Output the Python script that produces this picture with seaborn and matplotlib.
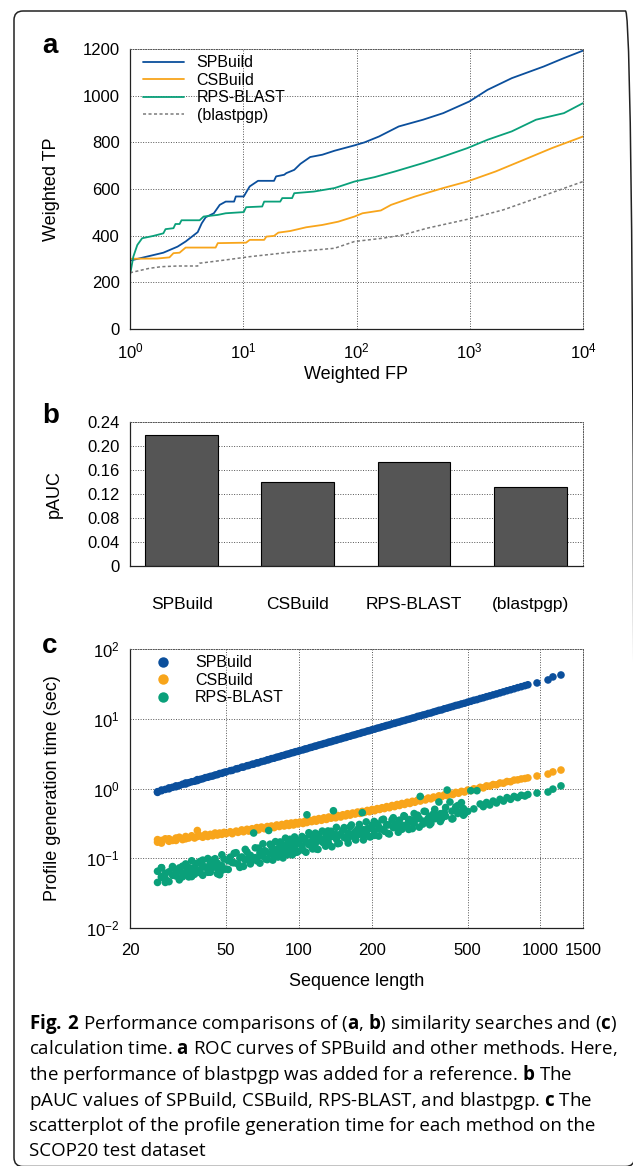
import pandas as pd
import seaborn as sns
import matplotlib.pyplot as plt
from matplotlib.lines import Line2D
from matplotlib.patches import FancyBboxPatch
from matplotlib.ticker import NullLocator

# ---------------- datos ----------------
methods = ['SPBuild', 'CSBuild', 'RPS-BLAST', '(blastpgp)']
colors = {'SPBuild': '#0b4f9c', 'CSBuild': '#f8a51b',
          'RPS-BLAST': '#0aa07a', '(blastpgp)': '#7a7a7a'}

# (a) curvas ROC
sp_fp = [1, 1.97, 2.63, 3.1, 3.96, 4.3, 4.66, 5.5, 6.2, 7.0, 8.3, 8.6, 10.1, 11.4, 13.5, 18.7, 19.5, 23, 24,
         28.2, 32, 39, 50, 64, 96, 118, 158, 236, 387, 582, 990, 1436, 2350, 4500, 6780, 10000]
sp_tp = [293, 327, 353, 375, 415, 453, 479, 496, 532, 546, 546, 568, 568, 611, 635, 635, 654, 661, 668,
         682, 708, 737, 747, 764, 787, 800, 825, 868, 897, 925, 975, 1025, 1075, 1125, 1161, 1193]
cs_fp = [1, 1.74, 2.23, 2.42, 2.74, 3.1, 5.7, 5.96, 10.6, 11.4, 15.3, 16, 18.7, 20.4, 26, 36, 50, 69, 96,
         113, 164, 202, 330, 582, 950, 1690, 3000, 5300, 10000]
cs_tp = [301, 302, 307, 325, 327, 349, 349, 368, 370, 382, 382, 396, 399, 413, 420, 436, 446, 460, 482,
         496, 508, 532, 568, 604, 632, 675, 725, 775, 825]
rps_fp = [1, 1.07, 1.16, 1.28, 1.61, 1.97, 2.06, 2.42, 2.52, 2.74, 2.85, 4.12, 4.47, 5.96, 7.0, 10.1, 10.6,
          14.7, 15.3, 21.2, 22.1, 27, 28.2, 42, 64, 96, 145, 218, 387, 582, 950, 1436, 2350, 3850, 6780, 10000]
rps_tp = [231, 310, 360, 389, 399, 410, 428, 432, 450, 450, 466, 466, 482, 489, 496, 501, 522,
          525, 546, 546, 561, 561, 582, 589, 604, 632, 651, 675, 711, 739, 775, 811, 847, 897, 925, 968]
bp_fp = [1, 1.48, 1.89, 2.63, 3.96, 4.12, 7.0, 11.4, 26, 64, 96, 170, 256, 420, 950, 1990, 3500, 10000]
bp_tp = [241, 260, 267, 270, 270, 282, 296, 310, 329, 346, 375, 389, 403, 432, 470, 511, 553, 632]

# (b) pAUC
pauc = [0.218, 0.140, 0.174, 0.132]
pauc_ticks = [0, 0.04, 0.08, 0.12, 0.16, 0.20, 0.24]
pauc_ticklabels = ['0', '0.04', '0.08', '0.12', '0.16', '0.20', '0.24']

# (c) tiempo de generacion del perfil
seq_len = [26, 26, 27, 27, 28, 29, 29, 30, 31, 31, 32, 33, 34, 34, 35, 36, 37, 38, 38, 39, 40, 41, 42, 43, 44, 45, 46, 47, 48, 49, 50,
           52, 53, 55, 56, 58, 59, 61, 62, 64, 65, 67, 68, 70, 72, 74, 75, 77, 79, 81, 83, 85, 87, 89, 91, 93, 95, 97, 99,
           101, 104, 106, 108, 111, 113, 116, 118, 121, 124, 127, 130, 133, 136, 139, 142, 145, 149, 152, 156, 159, 163, 167, 171, 175, 179, 183, 187, 192, 196,
           201, 206, 211, 216, 221, 226, 231, 237, 243, 249, 255, 261, 267, 274, 281, 288, 295, 302, 310, 318, 326, 334, 343, 352, 361, 370, 380, 390, 400, 411, 422, 434, 446, 458, 471, 485,
           500, 515, 530, 546, 563, 580, 598, 617, 637, 658, 680, 703, 727, 752, 778, 805, 833, 862, 887, 968, 1075, 1126, 1216]
sp_time = [0.90, 0.88, 0.93, 0.95, 0.97, 0.99, 1.02, 1.04, 1.06, 1.09, 1.10, 1.15, 1.16, 1.20, 1.21, 1.25, 1.27, 1.30, 1.34, 1.35, 1.38, 1.43, 1.45, 1.49, 1.51, 1.56, 1.58, 1.64, 1.65, 1.70, 1.73,
           1.80, 1.82, 1.91, 1.93, 2.02, 2.03, 2.12, 2.14, 2.22, 2.24, 2.33, 2.34, 2.43, 2.48, 2.57, 2.59, 2.68, 2.72, 2.81, 2.86, 2.95, 3.00, 3.09, 3.14, 3.23, 3.28, 3.37, 3.41,
           3.50, 3.58, 3.68, 3.72, 3.85, 3.90, 4.02, 4.07, 4.20, 4.28, 4.40, 4.48, 4.62, 4.69, 4.82, 4.90, 5.03, 5.14, 5.27, 5.38, 5.52, 5.62, 5.79, 5.90, 6.07, 6.17, 6.35, 6.45, 6.66, 6.76,
           6.97, 7.10, 7.32, 7.45, 7.66, 7.80, 8.01, 8.17, 8.43, 8.59, 8.84, 9.00, 9.26, 9.45, 9.74, 9.93, 10.2, 10.4, 10.8, 11.0, 11.3, 11.5, 11.9, 12.1, 12.5, 12.8, 13.2, 13.4, 13.9, 14.2, 14.6, 15.0, 15.5, 15.8, 16.3, 16.7,
           17.3, 17.8, 18.4, 18.8, 19.5, 20.0, 20.7, 21.3, 22.0, 22.7, 23.5, 24.3, 25.2, 26.0, 26.9, 27.9, 28.8, 29.8, 30.7, 32.6, 36.0, 39.8, 42.4]
cs_time = [0.170, 0.185, 0.165, 0.180, 0.190, 0.175, 0.190, 0.180, 0.195, 0.180, 0.200, 0.185, 0.205, 0.190, 0.195, 0.210, 0.195, 0.250, 0.205, 0.210, 0.200, 0.220, 0.205, 0.220, 0.210, 0.230, 0.215, 0.230, 0.220, 0.235, 0.225,
           0.240, 0.225, 0.245, 0.235, 0.255, 0.240, 0.260, 0.245, 0.265, 0.250, 0.275, 0.255, 0.280, 0.265, 0.285, 0.270, 0.290, 0.275, 0.300, 0.285, 0.305, 0.290, 0.315, 0.295, 0.320, 0.300, 0.325, 0.310,
           0.330, 0.315, 0.340, 0.325, 0.350, 0.335, 0.360, 0.340, 0.370, 0.350, 0.380, 0.360, 0.390, 0.375, 0.400, 0.380, 0.410, 0.390, 0.420, 0.405, 0.435, 0.415, 0.445, 0.430, 0.460, 0.440, 0.470, 0.455, 0.485, 0.465,
           0.500, 0.480, 0.515, 0.500, 0.530, 0.515, 0.550, 0.530, 0.570, 0.550, 0.590, 0.570, 0.610, 0.590, 0.635, 0.610, 0.655, 0.635, 0.680, 0.660, 0.700, 0.685, 0.730, 0.710, 0.755, 0.735, 0.785, 0.765, 0.810, 0.790, 0.845, 0.820, 0.880, 0.855, 0.910, 0.890,
           0.95, 0.93, 0.99, 0.975, 1.04, 1.02, 1.09, 1.08, 1.14, 1.13, 1.20, 1.19, 1.26, 1.25, 1.32, 1.33, 1.37, 1.39, 1.42, 1.51, 1.61, 1.73, 1.84]
rps_time = [0.045, 0.065, 0.0547, 0.0733, 0.0509, 0.0639, 0.0462, 0.0738, 0.0630, 0.0556, 0.0727, 0.0542, 0.0829, 0.0625, 0.0738, 0.0546, 0.0731, 0.0851, 0.0652, 0.0620, 0.0940, 0.0746, 0.0629, 0.0862, 0.0751, 0.0985, 0.0716, 0.058, 0.0671, 0.0974, 0.0697,
            0.1037, 0.0867, 0.120, 0.0825, 0.1043, 0.0765, 0.1232, 0.1044, 0.0947, 0.230, 0.092, 0.1397, 0.1081, 0.1283, 0.0956, 0.250, 0.1483, 0.1163, 0.111, 0.1688, 0.1347, 0.114, 0.1569, 0.1371, 0.1805, 0.132, 0.1616, 0.1245,
            0.181, 0.1307, 0.1907, 0.420, 0.2171, 0.1489, 0.1862, 0.1361, 0.2168, 0.1844, 0.1655, 0.2152, 0.1598, 0.2434, 0.480, 0.2193, 0.1619, 0.2167, 0.2512, 0.1961, 0.1859, 0.2817, 0.2239, 0.1891, 0.2594, 0.226, 0.450, 0.2162, 0.2648, 0.2036,
            0.297, 0.213, 0.313, 0.261, 0.355, 0.244, 0.303, 0.223, 0.355, 0.302, 0.271, 0.352, 0.260, 0.398, 0.305, 0.359, 0.266, 0.355, 0.414, 0.770, 0.309, 0.468, 0.373, 0.316, 0.436, 0.381, 0.640, 0.368, 0.452, 0.950, 0.640, 0.370, 0.544, 0.457, 0.627, 0.434,
            0.47, 0.93, 0.51, 0.93, 0.60, 0.55, 0.63, 0.58, 0.66, 0.62, 0.70, 0.66, 0.74, 0.70, 0.77, 0.74, 0.80, 0.78, 0.82, 0.86, 0.89, 0.98, 1.09]
# puntos adicionales de RPS-BLAST (bordes y centro de la nube)
rps_len_extra = [27, 28, 30, 32, 33, 35, 36, 37, 39, 40, 42, 43, 44, 46, 48, 51, 54, 57, 60, 63,
                 66, 69, 71, 73, 76, 78, 80, 82, 84, 86, 88, 90, 92, 94, 96, 98, 103, 107, 110, 114,
                 117, 120, 125, 129, 132, 137, 143, 147, 154, 160, 165, 172, 178, 185, 190, 198, 205, 214, 224, 234,
                 246, 258, 272, 285, 300, 315, 330, 348, 365, 385, 405, 430, 455, 480]
rps_time_edge = [0.073, 0.045, 0.076, 0.049, 0.077, 0.054, 0.092, 0.059, 0.090, 0.057, 0.099, 0.063, 0.094, 0.060, 0.112, 0.069, 0.118, 0.074, 0.134, 0.083,
                 0.141, 0.085, 0.161, 0.097, 0.159, 0.094, 0.173, 0.104, 0.171, 0.101, 0.194, 0.113, 0.187, 0.112, 0.202, 0.122, 0.205, 0.122, 0.232, 0.136,
                 0.229, 0.134, 0.245, 0.149, 0.246, 0.146, 0.277, 0.164, 0.275, 0.165, 0.300, 0.183, 0.305, 0.183, 0.332, 0.203, 0.337, 0.208, 0.363, 0.227,
                 0.381, 0.236, 0.407, 0.259, 0.437, 0.279, 0.471, 0.302, 0.503, 0.336, 0.534, 0.366, 0.570, 0.414]
rps_time_mid = [0.053, 0.061, 0.057, 0.067, 0.061, 0.071, 0.064, 0.074, 0.068, 0.078, 0.071, 0.082, 0.074, 0.085, 0.078, 0.092, 0.086, 0.101, 0.094, 0.110,
                0.102, 0.119, 0.108, 0.125, 0.115, 0.133, 0.120, 0.138, 0.125, 0.144, 0.130, 0.150, 0.136, 0.156, 0.141, 0.162, 0.148, 0.172, 0.156, 0.181,
                0.163, 0.187, 0.171, 0.197, 0.178, 0.206, 0.188, 0.217, 0.199, 0.230, 0.209, 0.242, 0.220, 0.256, 0.231, 0.268, 0.244, 0.283, 0.259, 0.300,
                0.275, 0.321, 0.295, 0.343, 0.316, 0.370, 0.340, 0.401, 0.369, 0.435, 0.401, 0.473, 0.439, 0.516]
len_ticks = [20, 50, 100, 200, 500, 1000, 1500]

caption = [
    r'$\mathbf{Fig.\,2}$ Performance comparisons of ($\mathbf{a}$, $\mathbf{b}$) similarity searches and ($\mathbf{c}$)',
    r'calculation time. $\mathbf{a}$ ROC curves of SPBuild and other methods. Here,',
    r'the performance of blastpgp was added for a reference. $\mathbf{b}$ The',
    r'pAUC values of SPBuild, CSBuild, RPS-BLAST, and blastpgp. $\mathbf{c}$ The',
    'scatterplot of the profile generation time for each method on the',
    'SCOP20 test dataset',
]

# ---------------- estilo ----------------
sns.set_theme(style='white')
plt.rcParams['font.family'] = ['Liberation Sans', 'DejaVu Sans']
plt.rcParams['mathtext.fontset'] = 'custom'
plt.rcParams['mathtext.rm'] = 'Open Sans'
plt.rcParams['mathtext.bf'] = 'Open Sans:bold'
for k in ['text.color', 'axes.labelcolor', 'xtick.color', 'ytick.color']:
    plt.rcParams[k] = 'black'

grid_kw = dict(color='#555555', linestyle=(0, (1, 1.6)), linewidth=0.7)


def marco(ax):
    for lado in ['left', 'bottom']:
        ax.spines[lado].set_color('#222222')
        ax.spines[lado].set_linewidth(0.9)
    for lado in ['top', 'right']:
        ax.spines[lado].set_color('#555555')
        ax.spines[lado].set_linewidth(0.7)
        ax.spines[lado].set_linestyle((0, (1, 1.6)))
    ax.tick_params(length=0, labelsize=12)


W, H = 633, 1166
fig = plt.figure(figsize=(W / 100, H / 100), dpi=100)


def caja(left, top, right, bottom):
    return [left / W, 1 - bottom / H, (right - left) / W, (bottom - top) / H]


# ---- (a) ROC ----
ax_a = fig.add_axes(caja(130, 49, 583, 329))
roc = [('SPBuild', sp_fp, sp_tp), ('CSBuild', cs_fp, cs_tp),
       ('RPS-BLAST', rps_fp, rps_tp), ('(blastpgp)', bp_fp, bp_tp)]
for nombre, fp, tp in roc:
    punteada = nombre == '(blastpgp)'
    sns.lineplot(x=fp, y=tp, ax=ax_a, color=colors[nombre], linewidth=1.1 if punteada else 1.3,
                 linestyle=(0, (2, 1.6)) if punteada else '-', label=nombre,
                 estimator=None, sort=False)
ax_a.set_xscale('log')
ax_a.set_xlim(1, 1e4)
ax_a.set_ylim(0, 1200)
ax_a.set_yticks(range(0, 1201, 200))
ax_a.xaxis.set_minor_locator(NullLocator())
ax_a.grid(True, which='major', **grid_kw)
marco(ax_a)
ax_a.tick_params(axis='x', pad=9)
ax_a.tick_params(axis='y', pad=7.5)
ax_a.set_xlabel('Weighted FP', fontsize=13)
ax_a.set_ylabel('Weighted TP', fontsize=13)
ax_a.xaxis.set_label_coords(0.5, -0.133)
ax_a.yaxis.set_label_coords(-0.155, 0.5)
ax_a.legend(loc='upper left', bbox_to_anchor=(0.015, 1.0), borderaxespad=0, frameon=False,
            fontsize=11.5, handlelength=2.55, handletextpad=0.8, labelspacing=0.15)

# ---- (b) pAUC ----
ax_b = fig.add_axes(caja(130, 422, 583, 566))
sns.barplot(x=methods, y=pauc, ax=ax_b, color='#555555', saturation=1,
            edgecolor='black', linewidth=0.8, width=0.625)
ax_b.set_xlim(-0.444, 3.454)
ax_b.set_ylim(0, 0.24)
ax_b.set_yticks(pauc_ticks)
ax_b.set_yticklabels(pauc_ticklabels)
ax_b.grid(axis='y', **grid_kw)
ax_b.grid(axis='x', visible=False)
marco(ax_b)
ax_b.tick_params(axis='x', pad=22, labelsize=12.5)
ax_b.tick_params(axis='y', pad=7.5)
ax_b.set_ylabel('pAUC', fontsize=13)
ax_b.yaxis.set_label_coords(-0.148, 0.5)

# ---- (c) tiempos ----
ax_c = fig.add_axes(caja(130, 649, 583, 928))
n = len(seq_len)
ne = len(rps_len_extra)
df_c = pd.DataFrame({
    'method': ['SPBuild'] * n + ['CSBuild'] * n + ['RPS-BLAST'] * (n + 2 * ne),
    'seq_len': seq_len * 3 + rps_len_extra * 2,
    'time': sp_time + cs_time + rps_time + rps_time_edge + rps_time_mid,
})
sns.scatterplot(data=df_c, x='seq_len', y='time', hue='method', palette=colors,
                s=30, linewidth=0, legend=False, ax=ax_c)
ax_c.set_xscale('log')
ax_c.set_yscale('log')
ax_c.set_xlim(20, 1500)
ax_c.set_ylim(1e-2, 1e2)
ax_c.set_xticks(len_ticks)
ax_c.set_xticklabels([str(t) for t in len_ticks])
ax_c.xaxis.set_minor_locator(NullLocator())
ax_c.yaxis.set_minor_locator(NullLocator())
ax_c.grid(True, which='major', **grid_kw)
marco(ax_c)
ax_c.tick_params(axis='x', pad=11)
ax_c.tick_params(axis='y', pad=7.5)
ax_c.set_xlabel('Sequence length', fontsize=13)
ax_c.set_ylabel('Profile generation time (sec)', fontsize=13)
ax_c.xaxis.set_label_coords(0.5, -0.161)
ax_c.yaxis.set_label_coords(-0.152, 0.5)
handles = [Line2D([], [], ls='', marker='o', markersize=7.5, markerfacecolor=colors[m],
                  markeredgewidth=0, label=m) for m in methods[:3]]
ax_c.legend(handles=handles, loc='upper left', bbox_to_anchor=(0.0234, 1.0), borderaxespad=0,
            frameon=False, fontsize=11.5, handlelength=2.0, handletextpad=1.0, labelspacing=0.15)

# ---- letras de panel ----
for letra, base in [('a', 53), ('b', 423), ('c', 653)]:
    fig.text(42 / W, 1 - base / H, letra, fontsize=20, fontweight='bold', va='baseline')

# ---- leyenda de la figura ----
for i, linea in enumerate(caption):
    fig.text(29 / W, 1 - (1029 + 25.5 * i) / H, linea, fontsize=13.5, family='Open Sans', va='baseline')

# ---- borde redondeado ----
borde = FancyBboxPatch((0.14, (H - 1166.5) / 100), (634.5 - 14) / 100, (1166.5 - 11) / 100,
                       boxstyle='round,pad=0,rounding_size=0.09', transform=fig.dpi_scale_trans,
                       fill=False, edgecolor='#222222', linewidth=1.1)
fig.add_artist(borde)

fig.savefig('out.png', dpi=100)
